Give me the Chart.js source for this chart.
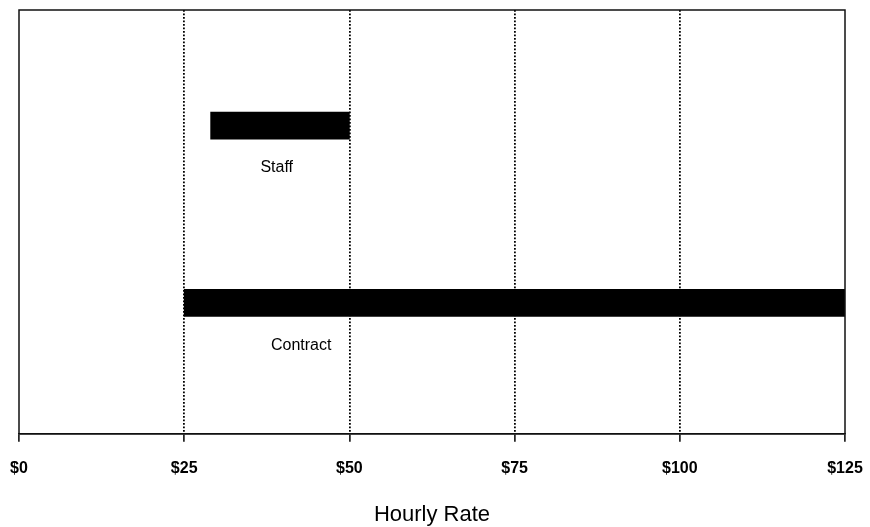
<!DOCTYPE html>
<html>
<head>
<meta charset="utf-8">
<script src="https://cdn.jsdelivr.net/npm/chart.js@4/dist/chart.umd.min.js"></script>
<style>
  body { margin: 0; background: #fff; }
  #wrap { width: 870px; height: 527px; }
</style>
</head>
<body>
<div id="wrap"><canvas id="chart"></canvas></div>
<script>
// Data
const categories = ['Staff', 'Contract'];
const rateLow = [29, 25];
const rateHigh = [50, 125];
const rowPos = [25, 71];          // where each row sits on the (0-100) vertical scale
const labelAtRate = [39, 42.7];   // label anchors, in dollars
const labelAtRow = [36, 82];
const xTicks = [0, 25, 50, 75, 100, 125];

Chart.defaults.font.family = '"Liberation Sans", Arial, sans-serif';
Chart.defaults.color = '#000';

// box around the plot + row labels
const framePlugin = {
  id: 'frame',
  afterDatasetsDraw(chart) {
    const { ctx, chartArea, scales } = chart;
    ctx.save();
    ctx.strokeStyle = '#111';
    ctx.lineWidth = 1.5;
    ctx.strokeRect(chartArea.left, chartArea.top, chartArea.right - chartArea.left, chartArea.bottom - chartArea.top);
    ctx.fillStyle = '#000';
    ctx.font = '16px "Liberation Sans", Arial, sans-serif';
    ctx.textAlign = 'center';
    ctx.textBaseline = 'middle';
    categories.forEach((c, i) => {
      ctx.fillText(c, scales.x.getPixelForValue(labelAtRate[i]), scales.y.getPixelForValue(labelAtRow[i]));
    });
    ctx.restore();
  }
};

new Chart(document.getElementById('chart'), {
  type: 'bar',
  data: {
    labels: categories,
    datasets: [{
      data: categories.map((c, i) => ({ x: [rateLow[i], rateHigh[i]], y: rowPos[i] })),
      backgroundColor: '#000',
      borderWidth: 0,
      borderSkipped: false,
      barThickness: 27,
    }],
  },
  options: {
    indexAxis: 'y',
    responsive: true,
    maintainAspectRatio: false,
    animation: false,
    layout: { padding: { top: 10, left: 19, right: 25, bottom: 0 } },
    plugins: { legend: { display: false }, tooltip: { enabled: false } },
    scales: {
      x: {
        type: 'linear',
        min: 0,
        max: 125,
        afterBuildTicks: (axis) => { axis.ticks = xTicks.map(v => ({ value: v })); },
        afterFit: (axis) => { axis.paddingLeft = 0; axis.paddingRight = 0; },
        ticks: {
          callback: (v) => '$' + v,
          font: { size: 16, weight: 'bold' },
          padding: 17,
          maxRotation: 0,
        },
        grid: {
          color: (ctx) => (ctx.tick && (ctx.tick.value === 0 || ctx.tick.value === 125)) ? 'rgba(0,0,0,0)' : '#000',
          lineWidth: 1.8,
          tickLength: 8,
          tickColor: '#000',
          tickWidth: 1.5,
          tickBorderDash: [],
        },
        border: { display: true, color: '#111', width: 1.5, dash: [1.8, 1.7] },
        title: {
          display: true,
          text: 'Hourly Rate',
          font: { size: 22, lineHeight: 1 },
          padding: { top: 9, bottom: 1 },
        },
      },
      y: {
        type: 'linear',
        min: 0,
        max: 100,
        reverse: true,
        display: false,
      },
    },
  },
  plugins: [framePlugin],
});
</script>
</body>
</html>
